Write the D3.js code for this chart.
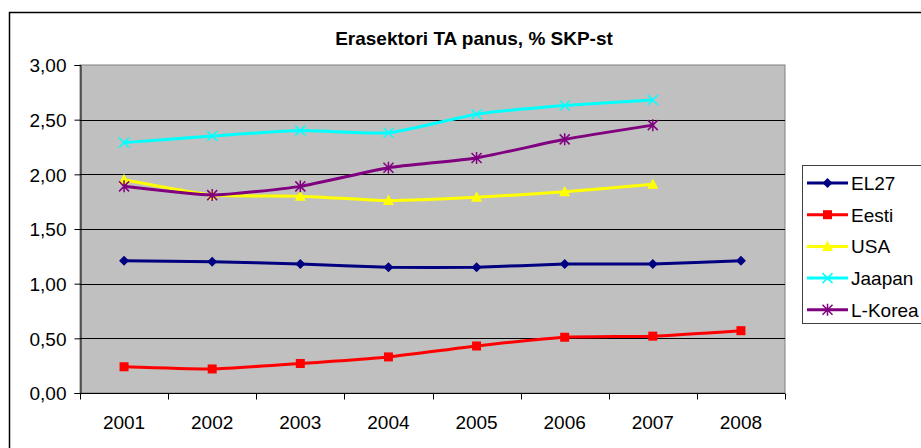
<!DOCTYPE html>
<html>
<head>
<meta charset="utf-8">
<style>
    body { margin: 0; background: #fff; }
    svg { display: block; font-family: Arial, 'Liberation Sans', sans-serif; }
    .axis text { font-size: 19px; fill: #000; }
    .legend text { font-size: 19px; fill: #000; }
    .title { font-size: 19px; font-weight: bold; }
</style>
</head>
<body>
<svg width="921" height="448"></svg>
<script src="https://d3js.org/d3.v7.min.js"></script>
<script>
    // values
    let years = ["2001", "2002", "2003", "2004", "2005", "2006", "2007", "2008"];
    let el27 = [1.21, 1.20, 1.18, 1.15, 1.15, 1.18, 1.18, 1.21];
    let eesti = [0.24, 0.22, 0.27, 0.33, 0.43, 0.51, 0.52, 0.57];
    let usa = [1.95, 1.81, 1.80, 1.76, 1.79, 1.84, 1.91, null];
    let jaapan = [2.29, 2.35, 2.40, 2.38, 2.55, 2.63, 2.68, null];
    let lkorea = [1.89, 1.81, 1.89, 2.06, 2.15, 2.32, 2.45, null];
    let yTicks = [0, 0.5, 1, 1.5, 2, 2.5, 3];

    let series = [
        { name: "EL27", values: el27, color: "#000080", symbol: "diamond" },
        { name: "Eesti", values: eesti, color: "#FF0000", symbol: "square" },
        { name: "USA", values: usa, color: "#FFFF00", symbol: "triangle" },
        { name: "Jaapan", values: jaapan, color: "#00FFFF", symbol: "cross" },
        { name: "L-Korea", values: lkorea, color: "#800080", symbol: "star" }
    ];

    let svg = d3.select("svg");

    // chart frame (runs off the page on the right and bottom)
    svg.append("rect")
        .attr("x", 9.5).attr("y", 12.5)
        .attr("width", 1000).attr("height", 1000)
        .attr("fill", "none")
        .attr("stroke", "#000")
        .attr("stroke-width", 1.5);

    let plot = { left: 80, right: 785, top: 65, bottom: 393 };

    let x = d3.scaleBand()
        .domain(years)
        .range([plot.left, plot.right]);

    let y = d3.scaleLinear()
        .domain([0, 3])
        .range([plot.bottom, plot.top]);

    svg.append("rect")
        .attr("x", plot.left).attr("y", plot.top)
        .attr("width", plot.right - plot.left)
        .attr("height", plot.bottom - plot.top)
        .attr("fill", "#C0C0C0")
        .attr("stroke", "#808080");

    // gridlines
    svg.append("g")
        .selectAll("line")
        .data(yTicks.filter(d => d > 0 && d < 3))
        .join("line")
        .attr("x1", plot.left).attr("x2", plot.right)
        .attr("y1", d => Math.round(y(d)) + 0.5)
        .attr("y2", d => Math.round(y(d)) + 0.5)
        .attr("stroke", "#000");

    let yAxis = svg.append("g")
        .attr("class", "axis")
        .attr("transform", `translate(${plot.left + 0.5},0)`)
        .call(d3.axisLeft(y)
            .tickValues(yTicks)
            .tickSize(6)
            .tickPadding(8)
            .tickFormat(d => d3.format(".2f")(d).replace(".", ",")))
    yAxis.select(".domain").attr("stroke", "#000");
    yAxis.selectAll("text").attr("dy", "0.36em");

    // x axis: ticks between categories, labels at centres
    let xAxis = svg.append("g")
        .attr("class", "axis")
        .attr("transform", `translate(0,${plot.bottom + 0.5})`);
    xAxis.append("line")
        .attr("x1", plot.left).attr("x2", plot.right)
        .attr("stroke", "#000");
    xAxis.selectAll(".tk")
        .data(years.concat(["end"]))
        .join("line")
        .attr("class", "tk")
        .attr("x1", (d, i) => Math.round(plot.left + i * x.bandwidth()) + 0.5)
        .attr("x2", (d, i) => Math.round(plot.left + i * x.bandwidth()) + 0.5)
        .attr("y1", 0).attr("y2", 6)
        .attr("stroke", "#000");
    xAxis.selectAll("text")
        .data(years)
        .join("text")
        .attr("x", d => x(d) + x.bandwidth() / 2)
        .attr("y", 35)
        .attr("text-anchor", "middle")
        .text(d => d);

    svg.append("text")
        .attr("class", "title")
        .attr("x", 474)
        .attr("y", 45)
        .attr("text-anchor", "middle")
        .text("Erasektori TA panus, % SKP-st");

    // marker shapes
    function marker(sel, s) {
        if (s.symbol === "diamond") {
            sel.append("path").attr("d", "M0,-5L5,0L0,5L-5,0Z").attr("fill", s.color);
        } else if (s.symbol === "square") {
            sel.append("rect").attr("x", -4.5).attr("y", -4.5).attr("width", 9).attr("height", 9).attr("fill", s.color);
        } else if (s.symbol === "triangle") {
            sel.append("path").attr("d", "M0,-6L5.5,4.5L-5.5,4.5Z").attr("fill", s.color);
        } else if (s.symbol === "cross") {
            sel.append("path").attr("d", "M-5,-5L5,5M-5,5L5,-5").attr("stroke", s.color).attr("stroke-width", 1.5);
        } else {
            sel.append("path").attr("d", "M-5,-5L5,5M-5,5L5,-5M0,-6L0,6").attr("stroke", s.color).attr("stroke-width", 1.5);
        }
    }

    let line = d3.line()
        .defined(d => d.v !== null)
        .x(d => x(d.year) + x.bandwidth() / 2)
        .y(d => y(d.v))
        .curve(d3.curveCardinal.tension(0.5));

    series.forEach(s => {
        let pts = years.map((yr, i) => ({ year: yr, v: s.values[i] }));
        svg.append("path")
            .datum(pts)
            .attr("fill", "none")
            .attr("stroke", s.color)
            .attr("stroke-width", 3)
            .attr("d", line);
        svg.append("g")
            .selectAll("g")
            .data(pts.filter(d => d.v !== null))
            .join("g")
            .attr("transform", d => `translate(${x(d.year) + x.bandwidth() / 2},${y(d.v)})`)
            .each(function () { marker(d3.select(this), s); });
    });

    // legend
    let legend = svg.append("g").attr("class", "legend");
    legend.append("rect")
        .attr("x", 802.5).attr("y", 165.5)
        .attr("width", 130).attr("height", 158)
        .attr("fill", "#fff")
        .attr("stroke", "#404040");
    let items = legend.selectAll(".item")
        .data(series)
        .join("g")
        .attr("class", "item")
        .attr("transform", (d, i) => `translate(0,${183 + i * 31.7})`);
    items.append("line")
        .attr("x1", 807).attr("x2", 848)
        .attr("stroke", d => d.color)
        .attr("stroke-width", 3);
    items.each(function (d) {
        let g = d3.select(this).append("g").attr("transform", "translate(827.5,0)");
        marker(g, d);
    });
    items.append("text")
        .attr("x", 851)
        .attr("y", 7)
        .text(d => d.name);
</script>
</body>
</html>
